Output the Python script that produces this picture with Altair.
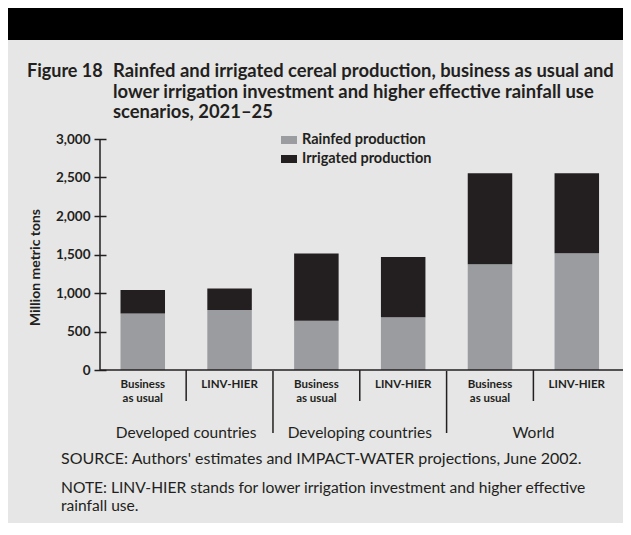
import altair as alt
import pandas as pd

# ---- data ----
groups = ["Developed countries", "Developing countries", "World"]
scenarios = ["Business as usual", "LINV-HIER"]
scenario_labels = ["Business\nas usual", "LINV-HIER"]
series = ["Rainfed production", "Irrigated production"]
rainfed = [735, 780, 638, 685, 1375, 1515]
irrigated = [305, 280, 874, 783, 1180, 1040]
y_ticks = [0, 500, 1000, 1500, 2000, 2500, 3000]
colors = ["#9b9ca0", "#231f20"]

fig_label = "Figure 18"
title_lines = [
    "Rainfed and irrigated cereal production, business as usual and",
    "lower irrigation investment and higher effective rainfall use",
    "scenarios, 2021\u201325",
]
y_title = "Million metric tons"
source_text = "SOURCE: Authors' estimates and IMPACT-WATER projections, June 2002."
note_lines = [
    "NOTE: LINV-HIER stands for lower irrigation investment and higher effective",
    "rainfall use.",
]

FONT = "Lato"
INK = "#231f20"

# ---- tables built from the arrays ----
rows = []
lab_rows = []
for gi, g in enumerate(groups):
    for si, s in enumerate(scenarios):
        i = gi * len(scenarios) + si
        rows.append(dict(pos=i, group=g, scenario=s, series=series[0], value=rainfed[i], order=0))
        rows.append(dict(pos=i, group=g, scenario=s, series=series[1], value=irrigated[i], order=1))
        lab_rows.append(dict(pos=i, label=scenario_labels[si]))
bars_df = pd.DataFrame(rows)
lab_df = pd.DataFrame(lab_rows)
grp_df = pd.DataFrame({"pos": [gi * 2 + 0.5 for gi in range(len(groups))], "label": groups})
short_df = pd.DataFrame({"pos": [gi * 2 + 0.5 for gi in range(len(groups))]})
long_df = pd.DataFrame({"pos": [gi * 2 + 1.5 for gi in range(len(groups) - 1)]})

W, H = 523, 231
STEP = 88.5
XMIN = -0.435
xscale = alt.Scale(domain=[XMIN, XMIN + W / STEP], nice=False, zero=False)
yscale = alt.Scale(domain=[0, 3000], nice=False)
X = alt.X("pos:Q", scale=xscale, axis=None)

one = pd.DataFrame({"t": [0]})

band = alt.Chart(one).mark_rect(color="black").encode(
    x=alt.value(-92), x2=alt.value(W), y=alt.value(-131), y2=alt.value(-99)
)

fig_txt = alt.Chart(pd.DataFrame({"t": [fig_label]})).mark_text(
    font=FONT, fontSize=18, fontWeight="bold", color=INK, align="left", baseline="alphabetic"
).encode(text="t:N", x=alt.value(-73), y=alt.value(-62))

title_txt = alt.Chart(pd.DataFrame({"t": ["\n".join(title_lines)]})).mark_text(
    font=FONT, fontSize=18.4, fontWeight="bold", color=INK, align="left",
    baseline="alphabetic", lineBreak="\n", lineHeight=20.5
).encode(text="t:N", x=alt.value(13), y=alt.value(-62))

bars = alt.Chart(bars_df).mark_bar(size=44.5).encode(
    x=X,
    y=alt.Y(
        "value:Q", stack="zero", scale=yscale,
        axis=alt.Axis(
            values=y_ticks, format=",.0f", grid=False, domain=False, labelOverlap=False,
            tickSize=12, offset=-6, tickColor=INK, tickWidth=1.5,
            labelFont=FONT, labelFontSize=13.5, labelFontWeight="bold", labelColor=INK,
            labelPadding=4,
            title=y_title, titleFont=FONT, titleFontSize=14, titleFontWeight="bold",
            titleColor=INK, titleX=-71, titleY=128, titleAngle=270,
            titleAlign="center", titleBaseline="middle",
        ),
    ),
    color=alt.Color(
        "series:N",
        scale=alt.Scale(domain=series, range=colors),
        legend=alt.Legend(
            orient="none", legendX=181, legendY=-7, title=None, padding=0,
            symbolType="M-1,-0.5H1V0.5H-1Z", symbolSize=256, symbolStrokeWidth=0,
            labelFont=FONT, labelFontSize=14.5, labelFontWeight="bold", labelColor=INK,
            labelOffset=5, rowPadding=4,
        ),
    ),
    order=alt.Order("order:Q", sort="ascending"),
)

# axis lines (decorations in pixel space of the plot)
y_line = alt.Chart(one).mark_rule(color=INK, strokeWidth=1.5).encode(
    x=alt.value(0), y=alt.value(0), y2=alt.value(H)
)
x_line = alt.Chart(one).mark_rule(color=INK, strokeWidth=1.5).encode(
    x=alt.value(0), x2=alt.value(W), y=alt.value(H)
)

short_sep = alt.Chart(short_df).mark_rule(color=INK, strokeWidth=1.5).encode(
    x=X, y=alt.value(H), y2=alt.value(H + 31)
)
long_sep = alt.Chart(long_df).mark_rule(color=INK, strokeWidth=1.5).encode(
    x=X, y=alt.value(H + 1), y2=alt.value(H + 63)
)

scen_txt = alt.Chart(lab_df).mark_text(
    font=FONT, fontSize=11.5, fontWeight="bold", color=INK, align="center",
    baseline="top", lineBreak="\n", lineHeight=14
).encode(x=X, y=alt.value(H + 9), text="label:N")

grp_txt = alt.Chart(grp_df).mark_text(
    font=FONT, fontSize=15.5, color=INK, align="center", baseline="middle"
).encode(x=X, y=alt.value(H + 63), text="label:N")

src_txt = alt.Chart(pd.DataFrame({"t": [source_text]})).mark_text(
    font=FONT, fontSize=16, color=INK, align="left", baseline="alphabetic"
).encode(text="t:N", x=alt.value(-39), y=alt.value(325))

note_txt = alt.Chart(pd.DataFrame({"t": ["\n".join(note_lines)]})).mark_text(
    font=FONT, fontSize=15.6, color=INK, align="left", baseline="alphabetic",
    lineBreak="\n", lineHeight=18
).encode(text="t:N", x=alt.value(-39), y=alt.value(354))

chart = alt.layer(
    band, fig_txt, title_txt, bars, y_line, x_line, short_sep, long_sep,
    scen_txt, grp_txt, src_txt, note_txt
).properties(
    width=W, height=H,
    autosize=alt.AutoSizeParams(type="none"),
    padding={"left": 92, "top": 131, "right": 0, "bottom": 153},
    background="#e6e6e6",
).configure_view(strokeWidth=0)

chart.save("out.html", embed_options={"renderer": "svg", "actions": False})
